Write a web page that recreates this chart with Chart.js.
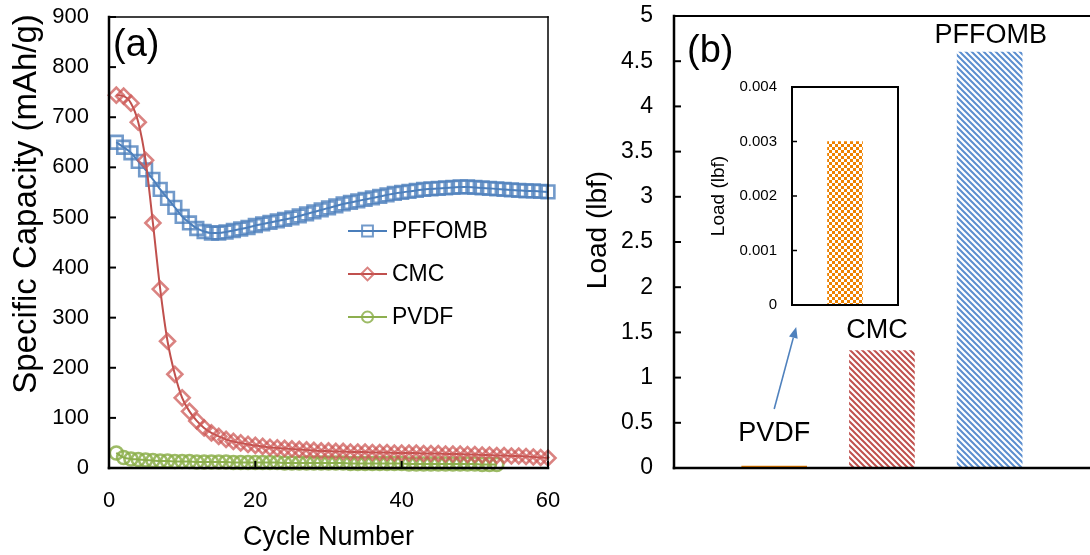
<!DOCTYPE html>
<html><head><meta charset="utf-8">
<script src="https://cdn.jsdelivr.net/npm/chart.js@4.4.0/dist/chart.umd.min.js"></script>
<style>
html,body{margin:0;padding:0;background:#fff;overflow:hidden;width:1090px;height:555px;position:relative}
canvas{position:absolute;display:block}
#ca{left:0;top:0}
#cb{left:560px;top:0}
#cc{left:700px;top:75px}
</style></head><body>
<canvas id="ca" width="560" height="555"></canvas>
<canvas id="cb" width="540" height="555"></canvas>
<canvas id="cc" width="210" height="250"></canvas>
<script>
// ---------- Panel (a) data ----------
const cycles = [1,2,3,4,5,6,7,8,9,10,11,12,13,14,15,16,17,18,19,20,21,22,23,24,25,26,27,28,29,30,
  31,32,33,34,35,36,37,38,39,40,41,42,43,44,45,46,47,48,49,50,51,52,53,54,55,56,57,58,59,60];
const pffomb = [650,640,629,612,595,576,556,538,520,502,489,478,472,469,469,471,474,477,480,484,
  487,490,493,496,499,503,507,511,515,519,523,527,530,533,536,539,542,545,548,550,
  552,554,556,557,558,559,560,561,561,560,559,558,557,556,555,554,553,553,552,551];
const cmc = [744,742,728,690,614,489,357,253,187,140,113,94,80,70,63,57,53,50,47,45,
  43,41,40,39,38,37,36,35,34,34,33,33,32,32,32,31,31,31,30,30,
  30,30,29,29,29,28,28,28,27,27,26,26,25,25,24,24,23,22,21,20];
const pvdf = [30,21,18,17,16,15,14,14,13,13,13,12,12,12,12,12,11,11,11,11,
  11,11,11,10,10,10,10,10,10,10,10,10,9,9,9,9,9,9,9,9,
  8,8,8,8,8,8,8,8,8,8,7,7,7];
const seriesNames = ['PFFOMB','CMC','PVDF'];
const cycleTicks = [0,20,40,60];
const capacityTicks = [0,100,200,300,400,500,600,700,800,900];

// ---------- Panel (b) data ----------
const binders = ['PVDF','CMC','PFFOMB'];
const loads = [0.003,1.3,4.6];
const loadTicks = [0,0.5,1,1.5,2,2.5,3,3.5,4,4.5,5];
const insetTicks = [0,0.001,0.002,0.003,0.004];

const FONT = "'Liberation Sans', Arial, sans-serif";

function stripes(color){
  const c=document.createElement('canvas'); c.width=6; c.height=6;
  const g=c.getContext('2d'); g.fillStyle='#fff'; g.fillRect(0,0,6,6);
  g.strokeStyle=color; g.lineWidth=2; g.beginPath();
  g.moveTo(-1,-1); g.lineTo(7,7);
  g.moveTo(-1,5); g.lineTo(1,7);
  g.moveTo(5,-1); g.lineTo(7,1);
  g.stroke();
  return g.createPattern(c,'repeat');
}
function checker(color){
  const c=document.createElement('canvas'); c.width=6; c.height=6;
  const g=c.getContext('2d'); g.fillStyle='#fff'; g.fillRect(0,0,6,6);
  g.fillStyle=color; g.fillRect(0,0,3,3); g.fillRect(3,3,3,3);
  return g.createPattern(c,'repeat');
}
function fixSize(prop, val){
  return s => { s[prop]=val; s.paddingTop=0; s.paddingBottom=0; s.paddingLeft=0; s.paddingRight=0; };
}

// generic plugins
const frame = {
  id:'frame',
  afterDatasetsDraw(chart, args, o){
    const {ctx, chartArea:a} = chart;
    ctx.save(); ctx.strokeStyle='#000'; ctx.lineCap='square';
    const seg=(x1,y1,x2,y2,w)=>{ if(!w) return; ctx.lineWidth=w; ctx.beginPath(); ctx.moveTo(x1,y1); ctx.lineTo(x2,y2); ctx.stroke(); };
    seg(a.left,a.top,a.right,a.top,o.top);
    seg(a.right,a.top,a.right,a.bottom,o.right);
    seg(a.left,a.top,a.left,a.bottom,o.left);
    seg(a.left,a.bottom,a.right,a.bottom,o.bottom);
    ctx.lineWidth=o.tickWidth||2; ctx.lineCap='butt';
    (o.ticks||[]).forEach(t=>{
      const s=chart.scales[t.id];
      s.ticks.forEach(tk=>{
        const p=s.getPixelForValue(tk.value);
        ctx.beginPath();
        if(s.isHorizontal()){ ctx.moveTo(p,a.bottom); ctx.lineTo(p,a.bottom-t.len); }
        else { ctx.moveTo(a.left,p); ctx.lineTo(a.left+t.len,p); }
        ctx.stroke();
      });
    });
    ctx.restore();
  }
};
const texts = {
  id:'texts',
  afterDraw(chart, args, o){
    const ctx=chart.ctx; ctx.save(); ctx.fillStyle='#000';
    (o.items||[]).forEach(t=>{
      ctx.save();
      ctx.font = t.size+'px '+FONT;
      ctx.translate(t.x,t.y); ctx.rotate(t.rot||0);
      ctx.textAlign=t.align||'center'; ctx.textBaseline='middle';
      ctx.fillText(t.text,0,0);
      ctx.restore();
    });
    ctx.restore();
  }
};
const lineLegend = {
  id:'lineLegend',
  afterDraw(chart, args, o){
    const ctx=chart.ctx; ctx.save();
    chart.data.datasets.forEach((ds,i)=>{
      const y=o.y0+i*o.dy;
      ctx.strokeStyle=ds.borderColor; ctx.lineWidth=ds.borderWidth;
      ctx.beginPath(); ctx.moveTo(o.x0,y); ctx.lineTo(o.x1,y); ctx.stroke();
      ctx.strokeStyle=ds.pointBorderColor; ctx.fillStyle='rgba(255,255,255,0)';
      Chart.helpers.drawPoint(ctx,{pointStyle:ds.pointStyle,radius:ds.pointRadius*0.85,borderWidth:2,rotation:0},(o.x0+o.x1)/2,y);
      ctx.fillStyle='#000'; ctx.font=o.size+'px '+FONT; ctx.textAlign='left'; ctx.textBaseline='middle';
      ctx.fillText(ds.label,o.x1+5,y+1);
    });
    ctx.restore();
  }
};
const barLabels = {
  id:'barLabels',
  afterDatasetsDraw(chart, args, o){
    const ctx=chart.ctx, meta=chart.getDatasetMeta(0);
    ctx.save(); ctx.fillStyle='#000'; ctx.font=o.size+'px '+FONT; ctx.textAlign='center'; ctx.textBaseline='middle';
    binders.forEach((b,i)=>{
      const el=meta.data[i];
      ctx.fillText(b, el.x+(o.dx[i]||0), el.y-o.gap[i]);
    });
    const el=meta.data[0];
    const x1=el.x, y1=o.arrow.y1, x2=el.x+o.arrow.dx, y2=o.arrow.y2;
    ctx.strokeStyle=o.arrow.color; ctx.fillStyle=o.arrow.color; ctx.lineWidth=1.6;
    const ang=Math.atan2(y2-y1,x2-x1), L=11, W=4.5;
    const bx=x2-L*Math.cos(ang), by=y2-L*Math.sin(ang);
    ctx.beginPath(); ctx.moveTo(x1,y1); ctx.lineTo(bx,by); ctx.stroke();
    ctx.beginPath(); ctx.moveTo(x2,y2);
    ctx.lineTo(bx+W*Math.sin(ang), by-W*Math.cos(ang));
    ctx.lineTo(bx-W*Math.sin(ang), by+W*Math.cos(ang));
    ctx.closePath(); ctx.fill();
    ctx.restore();
  }
};

const tickFmt = v => String(Number(Number(v).toFixed(4)));

// ---------- Chart (a) ----------
new Chart(document.getElementById('ca'), {
  type:'line',
  data:{datasets:[
    {label:seriesNames[0], data:cycles.map((c,i)=>({x:c,y:pffomb[i]})), order:1,
     borderColor:'#4A7EBB', borderWidth:2, pointStyle:'rect', pointRadius:9, pointBorderWidth:2.6,
     pointBorderColor:'rgba(79,129,189,0.8)', pointBackgroundColor:'rgba(255,255,255,0)', cubicInterpolationMode:'monotone', clip:false},
    {label:seriesNames[1], data:cycles.map((c,i)=>({x:c,y:cmc[i]})), order:0,
     borderColor:'#C0504D', borderWidth:2, pointStyle:'rectRot', pointRadius:7.5, pointBorderWidth:2.6,
     pointBorderColor:'rgba(205,90,87,0.75)', pointBackgroundColor:'rgba(255,255,255,0)', cubicInterpolationMode:'monotone', clip:false},
    {label:seriesNames[2], data:pvdf.map((v,i)=>({x:cycles[i],y:v})), order:2,
     borderColor:'#8DAF4F', borderWidth:2, pointStyle:'circle', pointRadius:6.5, pointBorderWidth:2.6,
     pointBorderColor:'rgba(140,175,75,0.85)', pointBackgroundColor:'rgba(255,255,255,0)', cubicInterpolationMode:'monotone', clip:false}
  ]},
  options:{
    responsive:false, animation:false, events:[],
    layout:{padding:{left:0,top:17,right:12,bottom:0}},
    plugins:{legend:{display:false}, tooltip:{enabled:false},
      frame:{top:1.5,right:1.5,left:2.5,bottom:2.5,tickWidth:2,ticks:[{id:'y',len:7},{id:'x',len:7}]},
      lineLegend:{x0:348,x1:387,y0:231,dy:43,size:23},
      texts:{items:[
        {text:'(a)',x:113,y:46,size:38,align:'left'},
        {text:'Specific Capacity (mAh/g)',x:27,y:204,size:33,rot:-Math.PI/2}
      ]}},
    scales:{
      x:{type:'linear',min:0,max:60,
        afterBuildTicks:s=>{s.ticks=cycleTicks.map(v=>({value:v}));},
        afterFit:fixSize('height',87),
        grid:{display:false,drawTicks:false}, border:{display:false},
        ticks:{color:'#000',font:{family:FONT,size:22},padding:20,maxRotation:0},
        title:{display:true,text:'Cycle Number',color:'#000',font:{family:FONT,size:27},padding:{top:0,bottom:1}}},
      y:{type:'linear',min:0,max:900,
        afterBuildTicks:s=>{s.ticks=capacityTicks.map(v=>({value:v}));},
        afterFit:fixSize('width',109),
        grid:{display:false,drawTicks:false}, border:{display:false},
        ticks:{color:'#000',font:{family:FONT,size:22},padding:20}}
    }
  },
  plugins:[frame,lineLegend,texts]
});

// ---------- Chart (b) ----------
const orange='#EE8200';
new Chart(document.getElementById('cb'), {
  type:'bar',
  data:{datasets:[{label:'Load (lbf)', data:binders.map((b,i)=>({x:i+1,y:loads[i]})),
    backgroundColor:[orange, stripes('#C0504D'), stripes('#5B8ECF')],
    borderWidth:0, barThickness:65, minBarLength:2}]},
  options:{
    responsive:false, animation:false, events:[],
    layout:{padding:{left:0,top:16,right:8,bottom:87}},
    plugins:{legend:{display:false}, tooltip:{enabled:false},
      frame:{top:2,right:0,left:2.5,bottom:2.5,tickWidth:2,ticks:[{id:'y',len:7}]},
      barLabels:{size:27,gap:[32,20,17],dx:[0,-5,1],arrow:{y1:409,y2:327,dx:22,color:'#4F81BD'}},
      texts:{items:[
        {text:'(b)',x:127,y:52,size:38,align:'left'},
        {text:'Load (lbf)',x:38.5,y:230,size:28,rot:-Math.PI/2}
      ]}},
    scales:{
      x:{type:'linear',min:0.07,max:3.95,offset:false,display:false},
      y:{type:'linear',min:0,max:5,
        afterBuildTicks:s=>{s.ticks=loadTicks.map(v=>({value:v}));},
        afterFit:fixSize('width',114),
        grid:{display:false,drawTicks:false}, border:{display:false},
        ticks:{color:'#000',font:{family:FONT,size:23},padding:21,callback:tickFmt}}
    }
  },
  plugins:[frame,barLabels,texts]
});

// ---------- Inset ----------
new Chart(document.getElementById('cc'), {
  type:'bar',
  data:{labels:[binders[0]], datasets:[{label:'Load (lbf)', data:[loads[0]],
    backgroundColor:checker(orange), borderWidth:0, barThickness:35}]},
  options:{
    responsive:false, animation:false, events:[],
    layout:{padding:{left:0,top:12,right:12,bottom:20}},
    plugins:{legend:{display:false}, tooltip:{enabled:false},
      frame:{top:2,right:2,left:2,bottom:2,tickWidth:1.5,ticks:[{id:'y',len:5}]}},
    scales:{
      x:{type:'category',display:false},
      y:{type:'linear',min:0,max:0.004,
        afterBuildTicks:s=>{s.ticks=insetTicks.map(v=>({value:v}));},
        afterFit:fixSize('width',92),
        grid:{display:false,drawTicks:false}, border:{display:false},
        ticks:{color:'#000',font:{family:FONT,size:15},padding:15,callback:tickFmt},
        title:{display:true,text:'Load (lbf)',color:'#000',font:{family:FONT,size:19},padding:{top:7.6,bottom:0}}}
    }
  },
  plugins:[frame]
});
</script>
</body></html>
